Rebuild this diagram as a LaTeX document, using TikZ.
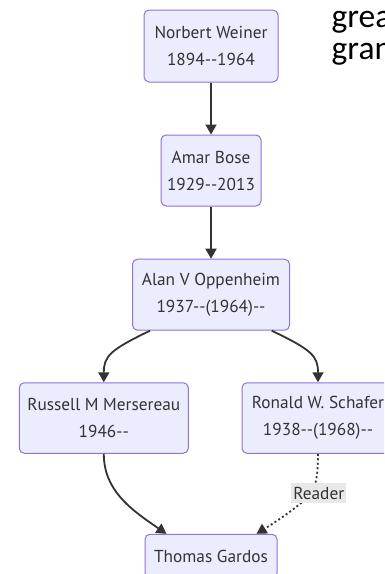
\documentclass[tikz,border=0pt]{standalone}
\usepackage{fontspec}
\setmainfont{PT Sans}
\newfontfamily\calfont{Carlito}
\usetikzlibrary{arrows.meta,calc}
\definecolor{boxfill}{HTML}{ECECFF}
\definecolor{boxline}{HTML}{9370DB}
\definecolor{ink}{HTML}{333333}
\definecolor{lblbg}{HTML}{E8E8E8}
\tikzset{
  person/.style={draw=boxline, line width=1pt, fill=boxfill, rounded corners=5pt,
    text=ink, align=center, inner sep=0pt, font=\fontsize{17.3}{27}\selectfont},
  link/.style={draw=ink, line width=1.8pt, -{Triangle[width=11pt,length=10pt]}},
  dotlink/.style={draw=ink, line width=1.8pt, dash pattern=on 2pt off 2.5pt,
    -{Triangle[width=11pt,length=10pt]}},
  edgelabel/.style={fill=lblbg, text=ink, inner xsep=2pt, inner ysep=0pt,
    minimum height=20pt, font=\fontsize{17.3}{20}\selectfont},
  sidetext/.style={anchor=base west, inner sep=0pt, text=black, font=\calfont\fontsize{33.5}{33.5}\selectfont}
}
\begin{document}
\begin{tikzpicture}[x=1pt,y=-1pt]
\useasboundingbox (0,0) rectangle (384,574);
\begin{scope}
\clip (0,0) rectangle (384,574);
\fill[white] (0,0) rectangle (384,574);

\node[person, minimum width=134pt, minimum height=72pt] (norbert) at (211,46) {Norbert Weiner\\1894-{}-1964};
\node[person, minimum width=100pt, minimum height=71pt] (amar) at (211,170.5) {Amar Bose\\1929-{}-2013};
\node[person, minimum width=157pt, minimum height=71pt] (alan) at (211,294.7) {Alan V Oppenheim\\1937-{}-(1964)-{}-};
\node[person, minimum width=169pt, minimum height=70.5pt] (russell) at (103.8,418) {Russell M Mersereau\\1946-{}-};
\node[person, minimum width=152pt, minimum height=70.5pt] (ronald) at (318,418) {Ronald W. Schafer\\1938-{}-(1968)-{}-};
\node[person, minimum width=132pt, minimum height=44pt] (thomas) at (211,556.3) {Thomas Gardos};

\node[sidetext] (grea) at (331.5,27.5) {grea};
\node[sidetext] (gran) at (331.5,59) {gran};

\draw[link] (norbert.south) -- (amar.north);
\draw[link] (amar.south) -- (alan.north);
\draw[link] ($(alan.south)+(-61,0)$) .. controls (110,350) and (103.8,356) .. (russell.north);
\draw[link] ($(alan.south)+(60.7,0)$) .. controls (312,350) and (318,356) .. (ronald.north);
\draw[link] (russell.south) .. controls (103.8,490) and (130,509) .. ($(thomas.north)+(-44.5,0)$);
\draw[dotlink] (ronald.south) .. controls (318,476) and (316,486) .. (310,495)
  .. controls (300,505) and (282,518) .. ($(thomas.north)+(45.5,0)$);
\node[edgelabel] (reader) at (318.8,493.3) {Reader};
\end{scope}
\end{tikzpicture}
\end{document}
